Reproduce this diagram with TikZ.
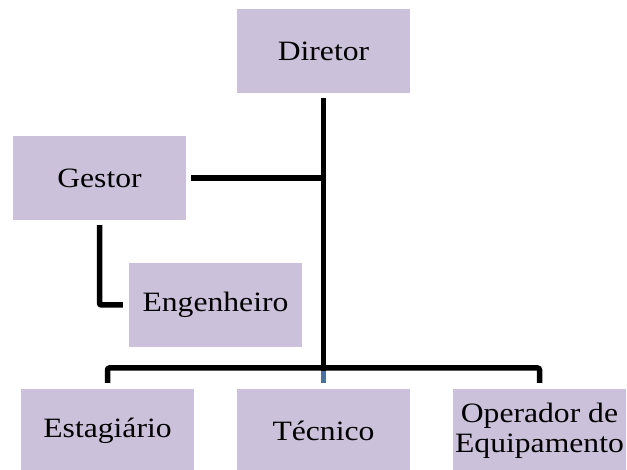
\documentclass[tikz,border=0pt]{standalone}
\usepackage{fontspec}
\setmainfont[FakeStretch=1.13]{Liberation Serif}
\definecolor{boxfill}{HTML}{CCC1DA}
\definecolor{midblue}{HTML}{4A6FA0}
\begin{document}
\begin{tikzpicture}[x=1pt,y=1pt,
  orgbox/.style={fill=boxfill, draw=none, minimum width=173pt, minimum height=84pt, inner sep=0pt, align=center, font=\fontsize{28}{30}\selectfont},
  conn/.style={line width=5.5pt, black},
  bconn/.style={line width=5.5pt, midblue}]
\useasboundingbox (0,0) rectangle (627,-470);
\node[orgbox] (diretor) at (323.5,-51) {Diretor};
\node[orgbox] (gestor) at (99.5,-178) {Gestor};
\node[orgbox] (engenheiro) at (215.5,-305) {Engenheiro};
\node[orgbox] (estagiario) at (107.5,-431) {Estagiário};
\node[orgbox] (tecnico) at (323.5,-431) {Técnico};
\node[orgbox] (operador) at (539.5,-431) {Operador de\\Equipamento};
\coordinate (j) at (323.5,-368);
\draw[conn] ([yshift=-5pt]diretor.south) -- ([yshift=-2.75pt]j);
\draw[conn] ([xshift=5pt]gestor.east) -- (gestor.east -| diretor.south);
\draw[conn, rounded corners=2pt] ([yshift=-5pt]gestor.south) |- ([xshift=-6pt]engenheiro.west);
\draw[bconn] ([yshift=-2.75pt]j) -- ([yshift=6pt]tecnico.north);
\draw[conn, rounded corners=2pt] ([yshift=6pt]estagiario.north) -- (estagiario.north |- j) -- (operador.north |- j) -- ([yshift=6pt]operador.north);
\end{tikzpicture}
\end{document}
